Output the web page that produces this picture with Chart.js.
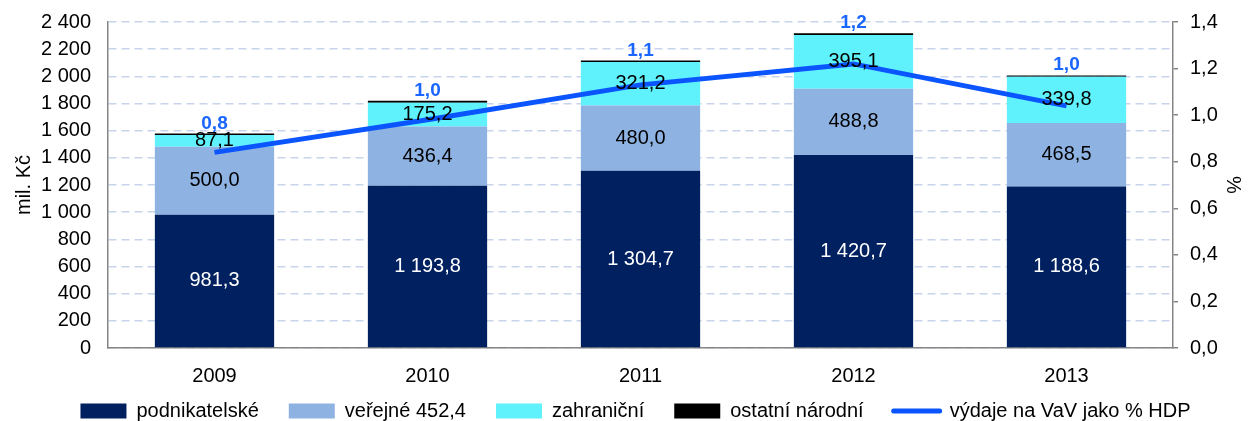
<!DOCTYPE html>
<html>
<head>
<meta charset="utf-8">
<script src="https://cdn.jsdelivr.net/npm/chart.js@4/dist/chart.umd.min.js"></script>
<style>
  html, body { margin: 0; padding: 0; background: #fff; }
  #wrap { width: 1249px; height: 421px; }
</style>
</head>
<body>
<div id="wrap"><canvas id="vavChart" width="1249" height="421"></canvas></div>
<script>
// data
const years = ["2009", "2010", "2011", "2012", "2013"];
const podnikatelske = [981.3, 1193.8, 1304.7, 1420.7, 1188.6];
const verejne = [500.0, 436.4, 480.0, 488.8, 468.5];
const zahranicni = [87.1, 175.2, 321.2, 395.1, 339.8];
const ostatni = [10, 14, 10, 12, 10];
const podilHdp = [0.84, 0.98, 1.13, 1.22, 1.04];
const leftTicks = [0, 200, 400, 600, 800, 1000, 1200, 1400, 1600, 1800, 2000, 2200, 2400];
const rightTicks = [0, 0.2, 0.4, 0.6, 0.8, 1.0, 1.2, 1.4];

const FONT = "'Liberation Sans', Arial, sans-serif";
const FS = 20;

function czNum(v, dec) {
  const s = v.toFixed(dec).split(".");
  const int = s[0].replace(/\B(?=(\d{3})+(?!\d))/g, " ");
  return s.length > 1 ? int + "," + s[1] : int;
}

// value labels inside bars + blue % labels above bar tops
const labelPlugin = {
  id: "labels",
  afterDatasetsDraw(chart) {
    const c = chart.ctx;
    c.save();
    c.textAlign = "center";
    c.textBaseline = "middle";
    c.font = FS + "px " + FONT;
    [0, 1, 2].forEach(di => {
      const meta = chart.getDatasetMeta(di);
      meta.data.forEach((bar, i) => {
        const mid = (bar.y + bar.base) / 2;
        c.fillStyle = di === 0 ? "#ffffff" : "#000000";
        c.fillText(czNum(chart.data.datasets[di].data[i], 1), bar.x, mid);
      });
    });
    const topMeta = chart.getDatasetMeta(3);
    c.font = "bold 19px " + FONT;
    c.fillStyle = "#1a66ff";
    c.textBaseline = "alphabetic";
    topMeta.data.forEach((bar, i) => {
      c.fillText(czNum(podilHdp[i], 1), bar.x, bar.y - 5);
    });
    c.restore();
  }
};

// keep legend short in height, but wide gaps between items
const legendFix = {
  id: "legendFix",
  afterInit(chart) {
    const lg = chart.legend;
    const fit = lg.fit;
    lg.fit = function () { fit.call(this); this.height = 33; };
  },
  afterLayout(chart) {
    const lg = chart.legend;
    lg.top = 371;
    lg.left += 7;
    lg.right += 7;
  }
};

function fixY(width) {
  return s => {
    s.width = width;
    s.paddingTop = 0;
    s.paddingBottom = 0;
  };
}

const ctx = document.getElementById("vavChart");
new Chart(ctx, {
  type: "bar",
  data: {
    labels: years,
    datasets: [
      { label: "podnikatelské", data: podnikatelske, backgroundColor: "#00205f", stack: "s", yAxisID: "y", order: 2 },
      { label: "veřejné 452,4", data: verejne, backgroundColor: "#8eb3e3", stack: "s", yAxisID: "y", order: 2 },
      { label: "zahraniční", data: zahranicni, backgroundColor: "#5ff2fc", stack: "s", yAxisID: "y", order: 2 },
      { label: "ostatní národní", data: ostatni, backgroundColor: "#000000", stack: "s", yAxisID: "y", order: 2 },
      {
        type: "line", label: "výdaje na VaV jako % HDP", data: podilHdp, yAxisID: "y1",
        borderColor: "#0b55ff", backgroundColor: "#0b55ff", borderWidth: 5,
        pointRadius: 0, tension: 0, order: 1
      }
    ]
  },
  options: {
    responsive: false,
    animation: false,
    layout: { padding: { left: 8, right: 0, top: 22, bottom: 0 } },
    datasets: { bar: { categoryPercentage: 0.56, barPercentage: 1.0 } },
    scales: {
      x: {
        stacked: true,
        afterFit: s => { s.height = 40; },
        grid: { display: false, drawTicks: false },
        border: { color: "#858585", width: 1.5 },
        ticks: { color: "#000", font: { family: FONT, size: FS }, padding: 16 }
      },
      y: {
        stacked: true,
        position: "left",
        min: 0, max: 2400,
        afterBuildTicks: s => { s.ticks = leftTicks.map(v => ({ value: v })); },
        afterFit: fixY(100),
        grid: { color: "#c8d4ec", lineWidth: 1.5, drawTicks: false },
        border: { color: "#858585", width: 1.5, dash: [8, 5] },
        ticks: { color: "#000", font: { family: FONT, size: FS }, padding: 17, autoSkip: false, callback: v => czNum(v, 0) },
        title: { display: true, text: "mil. Kč", color: "#000", font: { family: FONT, size: FS }, padding: 4 }
      },
      y1: {
        position: "right",
        min: 0, max: 1.4,
        afterBuildTicks: s => { s.ticks = rightTicks.map(v => ({ value: v })); },
        afterFit: fixY(76),
        grid: { drawOnChartArea: false, color: "#858585", tickLength: 5, lineWidth: 1.5 },
        border: { color: "#858585", width: 1.5 },
        ticks: { color: "#000", font: { family: FONT, size: FS }, padding: 12, autoSkip: false, callback: v => czNum(v, 1) },
        title: { display: true, text: "%", color: "#000", font: { family: FONT, size: FS }, padding: 4 }
      }
    },
    plugins: {
      legend: {
        position: "bottom",
        labels: {
          color: "#000",
          font: { family: FONT, size: FS },
          boxWidth: 46, boxHeight: 15, padding: 30,
          usePointStyle: true, pointStyleWidth: 46,
          generateLabels(chart) {
            return chart.data.datasets.map((d, i) => {
              const isLine = d.type === "line";
              return {
                text: d.label,
                fillStyle: d.backgroundColor,
                strokeStyle: isLine ? d.borderColor : d.backgroundColor,
                lineWidth: isLine ? 5 : 0,
                lineCap: "round",
                pointStyle: isLine ? "line" : "rect",
                datasetIndex: i,
                fontColor: "#000",
                hidden: false
              };
            });
          }
        }
      },
      tooltip: { enabled: false }
    }
  },
  plugins: [labelPlugin, legendFix]
});
</script>
</body>
</html>
